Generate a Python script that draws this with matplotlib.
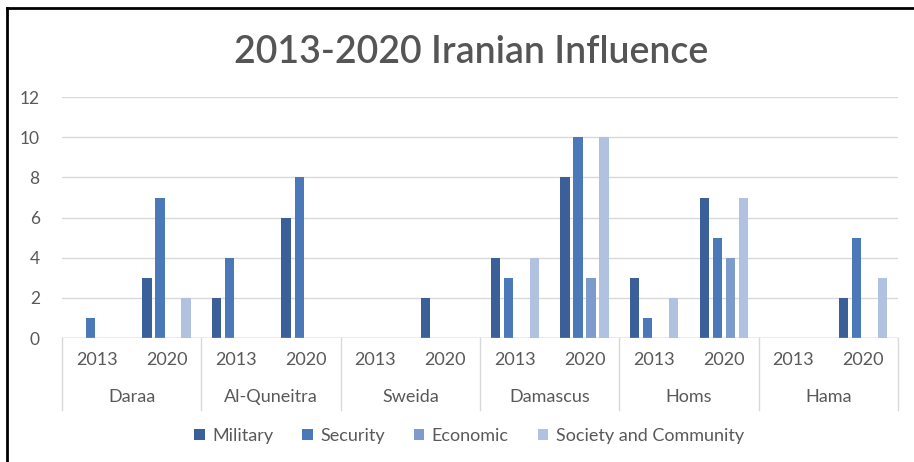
import numpy as np
import matplotlib.pyplot as plt
from matplotlib.lines import Line2D
import matplotlib.transforms as mtransforms

# data
regions = ["Daraa", "Al-Quneitra", "Sweida", "Damascus", "Homs", "Hama"]
years = ["2013", "2020"]
series_names = ["Military", "Security", "Economic", "Society and Community"]

military = [0, 3, 2, 6, 0, 2, 4, 8, 3, 7, 0, 2]
security = [1, 7, 4, 8, 0, 0, 3, 10, 1, 5, 0, 5]
economic = [0, 0, 0, 0, 0, 0, 0, 3, 0, 4, 0, 0]
society = [0, 2, 0, 0, 0, 0, 4, 10, 2, 7, 0, 3]

colors = ["#3A5F99", "#4A78B8", "#7D9CCB", "#B0C2E0"]
text_gray = "#595959"
line_gray = "#D9D9D9"

plt.rcParams['font.family'] = ['Lato', 'DejaVu Sans']

fig = plt.figure(figsize=(9.14, 4.62), dpi=100)
ax = fig.add_axes([0.0678, 0.268, 0.9147, 0.522])

n = len(military)
x = np.arange(n) + 0.5
step = 0.187
width = 0.137
for k, (vals, c, name) in enumerate(zip([military, security, economic, society], colors, series_names)):
    ax.bar(x + (k - 1.5) * step, vals, width=width, color=c, label=name, zorder=3)

ax.set_xlim(0, n)
ax.set_ylim(0, 12)
ax.set_yticks(range(0, 13, 2))
ax.tick_params(axis='y', length=0, pad=16, labelsize=12.5, labelcolor=text_gray)
ax.set_xticks([])
ax.grid(axis='y', color=line_gray, linewidth=1, zorder=0)
for s in ax.spines.values():
    s.set_visible(False)
ax.axhline(0, color="#BFBFBF", linewidth=1, zorder=4)

# two-level category axis
trans = mtransforms.blended_transform_factory(ax.transData, ax.transAxes)
ax_h = 0.522 * 462
for b in range(0, n + 1, 2):
    ax.add_line(Line2D([b, b], [0, -72 / ax_h], transform=trans, color=line_gray,
                       linewidth=1, clip_on=False))
for i in range(n):
    ax.text(i + 0.5, -22 / ax_h, years[i % 2], transform=trans, ha='center', va='center',
            fontsize=13, color=text_gray)
for j, r in enumerate(regions):
    ax.text(2 * j + 1, -59 / ax_h, r, transform=trans, ha='center', va='center',
            fontsize=13, color=text_gray)

fig.text(0.515, 0.887, "2013-2020 Iranian Influence", ha='center', va='center',
         fontsize=27, color="#555555", fontweight='semibold')

fig.legend(loc='center', bbox_to_anchor=(0.513, 0.056), ncol=4, frameon=False,
           handlelength=0.6, handleheight=0.6, handletextpad=0.4, columnspacing=1.6,
           labelcolor=text_gray, prop={'size': 13})

# frame of the screenshot
fig.add_artist(Line2D([0.008, 1.0], [0.983, 0.983], transform=fig.transFigure, color="black", linewidth=2))
fig.add_artist(Line2D([0.008, 0.008], [0.0, 0.983], transform=fig.transFigure, color="black", linewidth=2))

fig.savefig("out.png", dpi=100, facecolor="white")
